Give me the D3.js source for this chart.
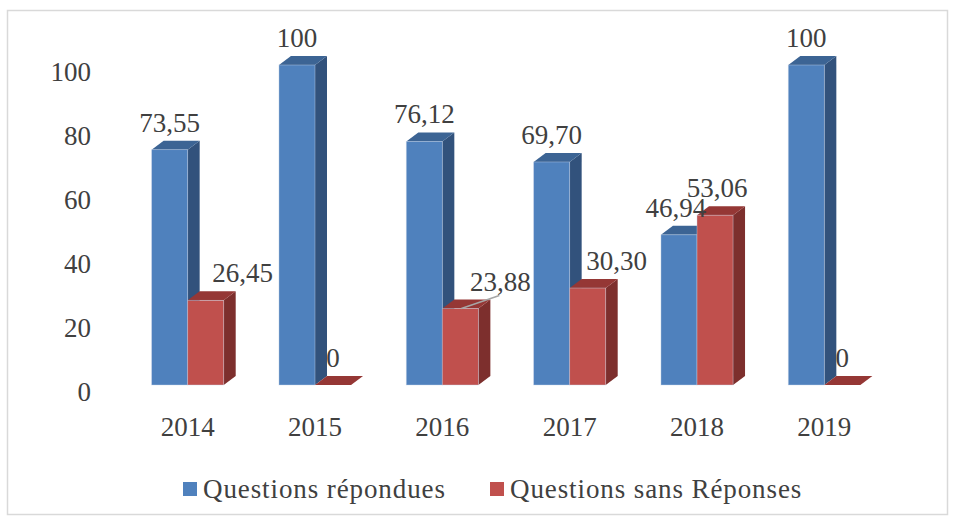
<!DOCTYPE html>
<html>
<head>
<meta charset="utf-8">
<script src="https://cdn.jsdelivr.net/npm/d3@7"></script>
<style>
  body { margin: 0; background: #fff; }
  svg text { font-family: "Liberation Serif", "Times New Roman", Times, Tinos, "Noto Serif", "DejaVu Serif", Georgia, serif; }
</style>
</head>
<body>
<svg id="chart" width="954" height="520"></svg>
<script>
const width = 954;
const height = 520;

const years = ["2014", "2015", "2016", "2017", "2018", "2019"];
const repondues = [73.55, 100, 76.12, 69.70, 46.94, 100];
const sansReponses = [26.45, 0, 23.88, 30.30, 53.06, 0];
const repLabels = ["73,55", "100", "76,12", "69,70", "46,94", "100"];
const sansLabels = ["26,45", "0", "23,88", "30,30", "53,06", "0"];
const yTicks = [0, 20, 40, 60, 80, 100];

// nudges for labels Excel moved sideways
const repNudge = [0, 0, 0, 0, -3, 0];
const sansNudge = [37, 0, 40, 29, 2, 0];

const svg = d3.select("#chart");
const textColor = "#404040";
const fontSize = 27;

// outer frame
svg.append("rect")
    .attr("x", 7.5).attr("y", 10.5)
    .attr("width", 940).attr("height", 504)
    .attr("fill", "none")
    .attr("stroke", "#d9d9d9")
    .attr("stroke-width", 1.5);

const x = d3.scaleBand()
    .domain(years)
    .range([124, 888])
    .paddingInner(0.434)
    .paddingOuter(0.217);

const barW = x.bandwidth() / 2;

const y = d3.scaleLinear().domain([0, 100]).range([385, 65]);
// axis labels sit on the back wall
const yAxisScale = d3.scaleLinear().domain([0, 100]).range([392, 72]);

const depthX = 12, depthY = -9;

const series = [
    { key: "rep", values: repondues, labels: repLabels, nudge: repNudge,
      front: "#4f81bd", side: "#32527c", top: "#3c6494" },
    { key: "sans", values: sansReponses, labels: sansLabels, nudge: sansNudge,
      front: "#c0504d", side: "#7d2f2d", top: "#953735" }
];

// y axis labels
svg.append("g")
    .selectAll("text")
    .data(yTicks)
    .join("text")
    .attr("x", 91)
    .attr("y", d => yAxisScale(d) + 9)
    .attr("text-anchor", "end")
    .attr("font-size", fontSize)
    .attr("fill", textColor)
    .text(d => d);

// bars, drawn back to front per category
years.forEach((yr, i) => {
    series.forEach((s, si) => {
        const v = s.values[i];
        const x0 = x(yr) + si * barW;
        const x1 = x0 + barW;
        const yt = y(v);
        const yb = y(0);
        const g = svg.append("g");

        // side face
        g.append("path")
            .attr("d", `M${x1},${yt} L${x1 + depthX},${yt + depthY} L${x1 + depthX},${yb + depthY} L${x1},${yb} Z`)
            .attr("fill", s.side);
        // top face
        g.append("path")
            .attr("d", `M${x0},${yt} L${x0 + depthX},${yt + depthY} L${x1 + depthX},${yt + depthY} L${x1},${yt} Z`)
            .attr("fill", s.top);
        // front face
        if (v > 0) {
            g.append("rect")
                .attr("x", x0).attr("y", yt)
                .attr("width", barW).attr("height", yb - yt)
                .attr("fill", s.front)
                .attr("stroke", "#c9d6ea")
                .attr("stroke-opacity", 0.5)
                .attr("stroke-width", 0.8);
        }
    });
});

// data labels
series.forEach((s, si) => {
    svg.append("g")
        .selectAll("text")
        .data(years)
        .join("text")
        .attr("x", (d, i) => x(d) + si * barW + barW / 2 + s.nudge[i])
        .attr("y", (d, i) => y(s.values[i]) - 27 + 9)
        .attr("text-anchor", "middle")
        .attr("font-size", fontSize)
        .attr("fill", textColor)
        .text((d, i) => s.labels[i]);
});

// leader line for 2016 red label
const i16 = years.indexOf("2016");
svg.append("line")
    .attr("x1", x("2016") + barW * 1.5 + 1)
    .attr("y1", y(sansReponses[i16]))
    .attr("x2", x("2016") + barW * 1.5 + 39)
    .attr("y2", y(sansReponses[i16]) - 13)
    .attr("stroke", "#a6a6a6")
    .attr("stroke-width", 1.5);

// x labels
svg.append("g")
    .selectAll("text")
    .data(years)
    .join("text")
    .attr("x", d => x(d) + barW)
    .attr("y", 436)
    .attr("text-anchor", "middle")
    .attr("font-size", fontSize)
    .attr("fill", textColor)
    .text(d => d);

// legend
const legend = [
    { name: "Questions répondues", color: "#4f81bd", x: 183 },
    { name: "Questions sans Réponses", color: "#c0504d", x: 490 }
];
const lg = svg.append("g");
legend.forEach(l => {
    lg.append("rect")
        .attr("x", l.x).attr("y", 482)
        .attr("width", 14).attr("height", 14)
        .attr("fill", l.color);
    lg.append("text")
        .attr("x", l.x + 20)
        .attr("y", 498)
        .attr("font-size", fontSize)
        .attr("letter-spacing", 0.9)
        .attr("fill", textColor)
        .text(l.name);
});
</script>
</body>
</html>
